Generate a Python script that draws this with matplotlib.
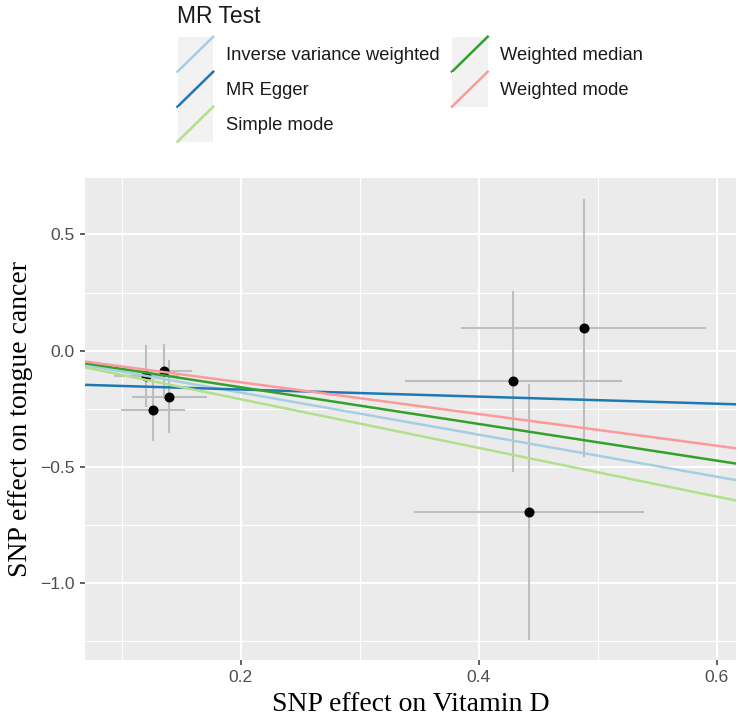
import matplotlib
matplotlib.use("Agg")
import matplotlib.pyplot as plt
from matplotlib.legend_handler import HandlerBase
from matplotlib.lines import Line2D
from matplotlib.patches import Rectangle

# SNP effects (exposure on x, outcome on y) and their standard errors
snp_bx = [0.1355, 0.1400, 0.1260, 0.1203, 0.4290, 0.4420, 0.4880]
snp_by = [-0.090, -0.198, -0.257, -0.111, -0.133, -0.695, 0.098]
snp_se_x = [0.023, 0.0305, 0.026, 0.026, 0.090, 0.096, 0.102]
snp_se_y = [0.115, 0.152, 0.129, 0.129, 0.384, 0.547, 0.550]

# MR estimates: slope and intercept per method
methods = ["Inverse variance weighted", "MR Egger", "Simple mode",
           "Weighted median", "Weighted mode"]
slopes = [-0.905, -0.153, -1.048, -0.790, -0.683]
intercepts = [0.0, -0.137, 0.0, 0.0, 0.0]
colors = ["#A6CEE3", "#1F78B4", "#B2DF8A", "#33A02C", "#FB9A99"]

x_ticks = [0.2, 0.4, 0.6]
y_ticks = [0.5, 0.0, -0.5, -1.0]


class DiagonalKey(HandlerBase):
    # ggplot-style abline key: grey box with a diagonal line
    def create_artists(self, legend, orig_handle, xdescent, ydescent,
                       width, height, fontsize, trans):
        bg = Rectangle((-xdescent, -ydescent), width, height,
                       facecolor="#F2F2F2", edgecolor="none", transform=trans)
        ln = Line2D([-xdescent, -xdescent + width],
                    [-ydescent, -ydescent + height],
                    color=orig_handle.get_color(),
                    lw=orig_handle.get_linewidth(), transform=trans)
        return [bg, ln]


fig = plt.figure(figsize=(7.44, 7.25), dpi=100)
ax = fig.add_axes([85 / 744, 1 - 659.5 / 725, (736 - 85) / 744, (659.5 - 178) / 725])
ax.set_facecolor("#EBEBEB")
for s in ax.spines.values():
    s.set_visible(False)

ax.set_xlim(0.0691, 0.616)
ax.set_ylim(-1.330, 0.743)

# grid
ax.set_xticks(x_ticks)
ax.set_yticks(y_ticks)
ax.set_xticks([0.1, 0.3, 0.5], minor=True)
ax.set_yticks([0.25, -0.25, -0.75, -1.25], minor=True)
ax.grid(which="major", color="white", lw=1.5)
ax.grid(which="minor", color="white", lw=0.8)
ax.set_axisbelow(True)
ax.tick_params(which="minor", length=0)
ax.tick_params(which="major", length=3.6, width=1.1, color="#333333",
               labelcolor="#4D4D4D", labelsize=12.6, pad=4.2)
ax.set_xticklabels(["0.2", "0.4", "0.6"])
ax.set_yticklabels(["0.5", "0.0", "\u22120.5", "\u22121.0"])
for lab in ax.get_xticklabels() + ax.get_yticklabels():
    lab.set_family("Liberation Sans")

# error bars
for x, y, ex, ey in zip(snp_bx, snp_by, snp_se_x, snp_se_y):
    ax.plot([x, x], [y - ey, y + ey], color="#BEBEBE", lw=1.5, zorder=2)
    ax.plot([x - ex, x + ex], [y, y], color="#BEBEBE", lw=1.5, zorder=2)
ax.plot(snp_bx, snp_by, "o", color="black", markersize=6.2, zorder=3)

# MR lines across the whole panel
handles = []
for name, b, a, c in zip(methods, slopes, intercepts, colors):
    ax.axline((0, a), slope=b, color=c, lw=1.8, zorder=4, label=name)
    handles.append(Line2D([], [], color=c, lw=1.8))

ax.set_xlabel("SNP effect on Vitamin D", family="Liberation Serif",
              fontsize=20, labelpad=5)
ax.set_ylabel("SNP effect on tongue cancer", family="Liberation Serif",
              fontsize=20, labelpad=5)

# legend at the top, title drawn as its own text
fig.text(177 / 744, 1 - 22.7 / 725, "MR Test", family="Liberation Sans",
         fontsize=16.5, color="#1A1A1A", va="baseline", ha="left")
leg = fig.legend(handles, methods, handler_map={Line2D: DiagonalKey()},
                 ncol=2, loc="upper left",
                 bbox_to_anchor=(177.5 / 744, 1 - 36.7 / 725),
                 frameon=False, fontsize=13.2,
                 handlelength=1.95, handleheight=2.56, labelspacing=0.0,
                 handletextpad=0.67, columnspacing=0.7, borderpad=0,
                 borderaxespad=0)
for t in leg.get_texts():
    t.set_family("Liberation Sans")
    t.set_color("#1A1A1A")

fig.savefig("out.png", dpi=100)
